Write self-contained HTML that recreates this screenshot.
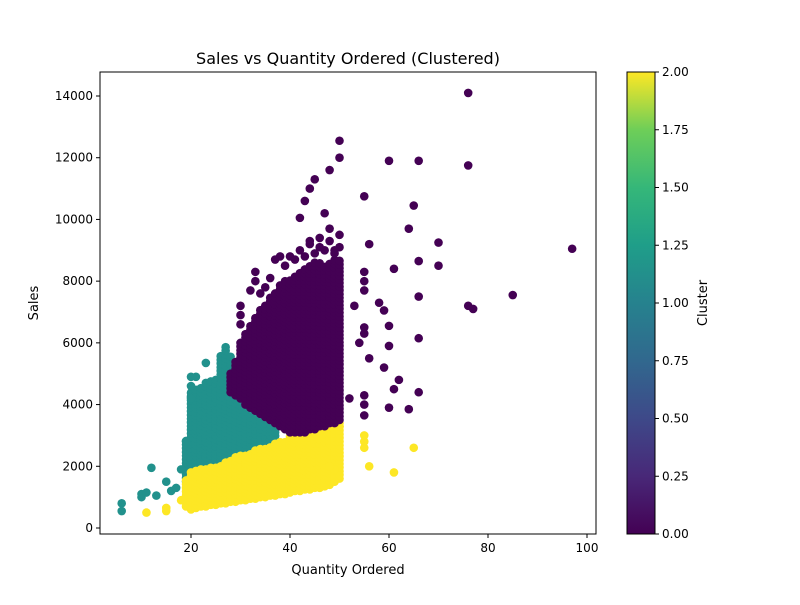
<!DOCTYPE html>
<html><head><meta charset="utf-8"><style>
body{margin:0;background:#fff;font-family:"Liberation Sans","DejaVu Sans",sans-serif}
svg text{font-family:"DejaVu Sans","Liberation Sans",sans-serif;fill:#000}
</style></head><body>
<svg id="chart" width="800" height="600" xmlns="http://www.w3.org/2000/svg">
<defs><linearGradient id="vir" x1="0" y1="1" x2="0" y2="0">
<stop offset="0" stop-color="#440154"/><stop offset="0.125" stop-color="#482878"/><stop offset="0.25" stop-color="#3e4989"/><stop offset="0.375" stop-color="#31688e"/><stop offset="0.5" stop-color="#26828e"/><stop offset="0.625" stop-color="#1f9e89"/><stop offset="0.75" stop-color="#35b779"/><stop offset="0.875" stop-color="#6ece58"/><stop offset="1" stop-color="#fde725"/></linearGradient></defs>
<g id="marks"></g>
<rect x="100" y="72" width="496" height="462" fill="none" stroke="#000" stroke-width="1"/>
<g id="axes"></g>
<text x="348" y="64" font-size="16" text-anchor="middle">Sales vs Quantity Ordered (Clustered)</text>
<text x="348" y="574" font-size="13" text-anchor="middle">Quantity Ordered</text>
<text x="38" y="303" font-size="13" text-anchor="middle" transform="rotate(-90 38 303)">Sales</text>
<rect x="627" y="72" width="28" height="462" fill="url(#vir)" stroke="#000" stroke-width="1"/>
<g id="cbar"></g>
<text x="707" y="303" font-size="13" text-anchor="middle" transform="rotate(-90 707 303)">Cluster</text>
</svg>
<script>
const xTicks=[20,40,60,80,100];
const yTicks=[0,2000,4000,6000,8000,10000,12000,14000];
const cbTicks=["0.00","0.25","0.50","0.75","1.00","1.25","1.50","1.75","2.00"];
const colors=["#440154","#21918c","#fde725"];
const tealQty=[19,20,21,22,23,24,25,26,27,28,29,30,31,32,33,34,35,36,37];
const tealLow=[1500,1500,1600,1650,1700,1750,1800,1850,1900,1950,2000,2050,2100,2150,2200,2250,2300,2400,2500];
const tealHigh=[2900,4400,4500,4600,4700,4800,4900,5600,5900,5600,5300,5000,4700,4500,4400,4300,4200,3900,3600];
const yelQty=[19,20,21,22,23,24,25,26,27,28,29,30,31,32,33,34,35,36,37,38,39,40,41,42,43,44,45,46,47,48,49,50];
const yelLow=[700,600,650,700,700,750,750,800,800,850,850,900,900,950,950,1000,1000,1050,1050,1100,1100,1150,1200,1200,1250,1250,1300,1300,1350,1400,1500,1600];
const yelHigh=[1600,1800,1850,1900,1950,2000,2050,2100,2150,2200,2300,2400,2450,2500,2550,2600,2650,2700,2750,2800,2850,3000,3050,3100,3150,3200,3250,3300,3300,3350,3400,3400];
const purQty=[28,29,30,31,32,33,34,35,36,37,38,39,40,41,42,43,44,45,46,47,48,49,50];
const purLow=[4400,4300,4200,4000,3900,3800,3700,3600,3500,3400,3300,3200,3100,3100,3100,3100,3200,3200,3300,3300,3400,3400,3500];
const purHigh=[5000,5400,6000,6300,6600,6900,7100,7300,7500,7700,7900,8000,8100,8200,8300,8400,8500,8600,8600,8500,8600,8700,8700];
const tealOutQ=[6,6,10,10,11,12,13,15,16,17,18,19,20,20,21,20,23];
const tealOutS=[800,550,1000,1100,1150,1950,1050,1500,1200,1300,1900,2800,4600,4900,4900,4200,5350];
const yelOutQ=[11,15,15,18,55,55,55,56,61,65,50,49,48];
const yelOutS=[500,650,550,900,2600,2800,3000,2000,1800,2600,3300,1900,2000];
const purOutQ=[76,50,50,48,45,44,60,66,76,55,65,42,47,43,97,85,76,77,70,70,64,66,61,56,66,66,55,55,55,58,59,55,55,60,56,60,62,61,59,64,66,55,55,55,60,54,52,53,40,38,37,36,33,33,34,32,30,30,30,46,48,50,50,49,44,45,47,43,41,42,44,46,48,49,39,35];
const purOutS=[14100,12550,12000,11600,11300,11000,11900,11900,11750,10750,10450,10050,10200,10600,9050,7550,7200,7100,9250,8500,9700,8650,8400,9200,7500,6150,8300,8000,7700,7300,7050,6500,6300,6550,5500,5900,4800,4500,5200,3850,4400,4300,4000,3650,3900,6000,4200,7200,8800,8800,8700,8100,8300,8000,7600,7700,7200,6900,6600,9400,9700,9500,9100,8900,9200,8900,9000,8800,8700,9000,9300,9100,9300,9000,8500,7800];

const NS="http://www.w3.org/2000/svg";
const X=v=>92+v*4.95;
const Y=v=>528-v*0.030857;
const marks=document.getElementById('marks');
function dot(q,s,c){
  const e=document.createElementNS(NS,'circle');
  e.setAttribute('cx',X(q));e.setAttribute('cy',Y(s));e.setAttribute('r',4.3);e.setAttribute('fill',c);
  
  
  marks.appendChild(e);
}
function band(qs,lo,hi,c){
  qs.forEach((q,i)=>{for(let s=lo[i];s<=hi[i];s+=120)dot(q,s,c);});
}
function pts(qs,ss,c){qs.forEach((q,i)=>dot(q,ss[i],c));}
band(tealQty,tealLow,tealHigh,colors[1]);pts(tealOutQ,tealOutS,colors[1]);
band(yelQty,yelLow,yelHigh,colors[2]);pts(yelOutQ,yelOutS,colors[2]);
band(purQty,purLow,purHigh,colors[0]);pts(purOutQ,purOutS,colors[0]);

const ax=document.getElementById('axes');
function add(p,tag,attrs,txt){const e=document.createElementNS(NS,tag);for(const k in attrs)e.setAttribute(k,attrs[k]);if(txt!==undefined)e.textContent=txt;p.appendChild(e);return e;}
xTicks.forEach(t=>{
  const l=add(ax,'line',{x1:X(t),x2:X(t),y1:534,y2:538,stroke:'#000'});
  
  
  const tx=add(ax,'text',{x:X(t),y:552,'font-size':12,'text-anchor':'middle'},t);
  
  
});
yTicks.forEach(t=>{
  const l=add(ax,'line',{x1:96,x2:100,y1:Y(t),y2:Y(t),stroke:'#000'});
  
  
  const tx=add(ax,'text',{x:93,y:Y(t)+4,'font-size':12,'text-anchor':'end'},t);
  
  
});
const cb=document.getElementById('cbar');
cbTicks.forEach((t,i)=>{
  const y=534-i*57.75;
  const l=add(cb,'line',{x1:655,x2:659,y1:y,y2:y,stroke:'#000'});
  
  
  const tx=add(cb,'text',{x:662,y:y+4,'font-size':12},t);
  
  
});
</script>
</body></html>
